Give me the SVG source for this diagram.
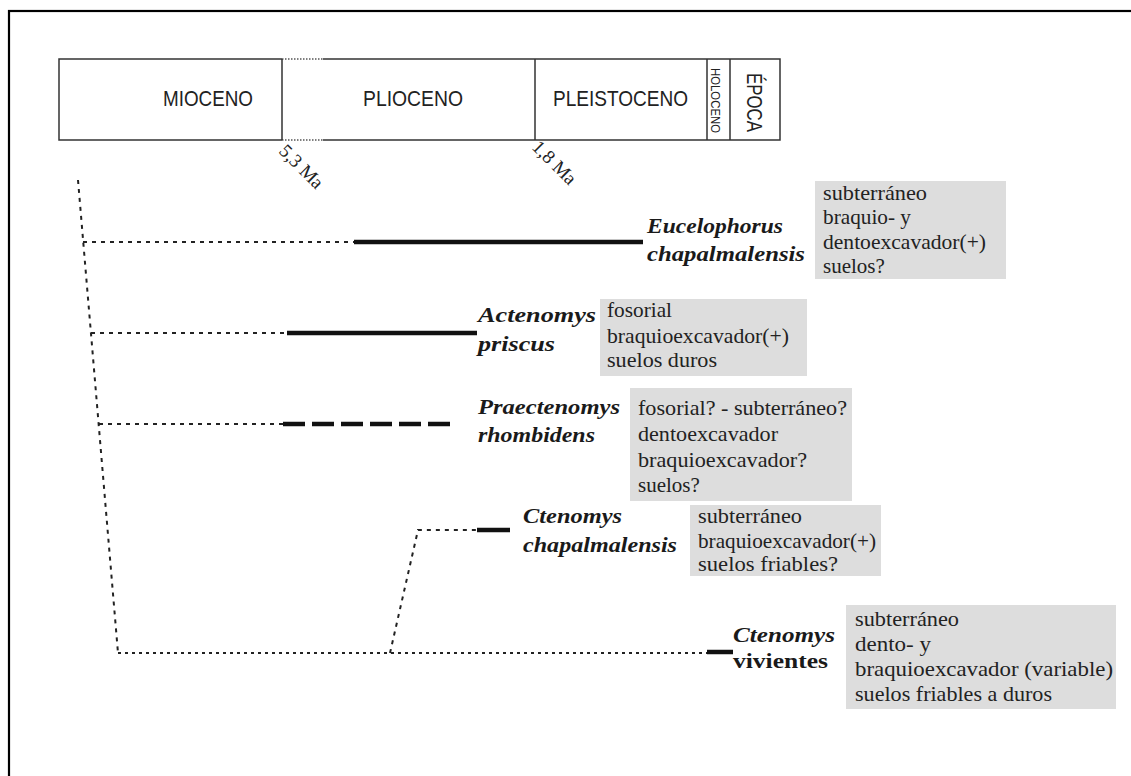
<svg xmlns="http://www.w3.org/2000/svg" width="1131" height="776" viewBox="0 0 1131 776">
<style>
.frame{fill:none;stroke:#000;stroke-width:2.2}
.tbox{fill:none;stroke:#333;stroke-width:1.5}
.tfine{fill:none;stroke:#555;stroke-width:1.3;stroke-dasharray:1.5 1.5}
.ep{font-family:"Liberation Sans",Arial,sans-serif;font-size:22px;fill:#222}
.ma{font-family:"Liberation Serif","Times New Roman",serif;font-size:19px;fill:#222}
.dot{fill:none;stroke:#222;stroke-width:2;stroke-dasharray:4 5}
.dot2{fill:none;stroke:#222;stroke-width:2;stroke-dasharray:3 4}
.thick{fill:none;stroke:#111;stroke-width:4.5}
.dash{fill:none;stroke:#111;stroke-width:4.5;stroke-dasharray:22 7}
.sp{font-family:"Liberation Serif","Times New Roman",serif;font-size:22px;font-weight:bold;font-style:italic;fill:#1a1a1a}
.spr{font-family:"Liberation Serif","Times New Roman",serif;font-size:22px;font-weight:bold;fill:#1a1a1a}
.gb{fill:#dddddd}
.bt{font-family:"Liberation Serif","Times New Roman",serif;font-size:21px;fill:#222}
</style>
<rect x="0" y="0" width="1131" height="776" fill="#fff"/>
<rect class="frame" x="9" y="11" width="1300" height="1000"/>

<g id="timescale">
  <path class="tbox" d="M282,59 H59 V140 H282 M323,59 H780 V140 H323"/>
  <path class="tfine" d="M282,59 H323 M282,140 H323"/>
  <path class="tbox" d="M282,59 V140 M535,59 V140 M707,59 V140 M730,59 V140"/>
  <text class="ep" x="163" y="106" textLength="90" lengthAdjust="spacingAndGlyphs">MIOCENO</text>
  <text class="ep" x="363" y="106" textLength="100" lengthAdjust="spacingAndGlyphs">PLIOCENO</text>
  <text class="ep" x="553" y="106" textLength="135" lengthAdjust="spacingAndGlyphs">PLEISTOCENO</text>
  <text class="ep" style="font-size:12.5px" transform="translate(711,68) rotate(90)" textLength="65" lengthAdjust="spacingAndGlyphs">HOLOCENO</text>
  <text class="ep" transform="translate(747,73) rotate(90)" textLength="59" lengthAdjust="spacingAndGlyphs">ÉPOCA</text>
  <text class="ma" transform="translate(278,152) rotate(45)">5,3 Ma</text>
  <text class="ma" transform="translate(531,148) rotate(45)">1,8 Ma</text>
</g>

<g id="connectors">
  <path class="dot" d="M78,180 L118,653"/>
  <path class="dot" d="M83,242 H355"/>
  <path class="dot" d="M91,333 H287"/>
  <path class="dot" d="M99,424 H284"/>
  <path class="dot2" d="M118,653 H708"/>
  <path class="dot" d="M390,653 L418,530 H478"/>
  <path class="thick" d="M354,242 H643"/>
  <path class="thick" d="M287,333 H477"/>
  <path class="dash" d="M283,424 H455"/>
  <path class="thick" d="M477,530 H510"/>
  <path class="thick" d="M707,652 H733"/>
</g>

<g id="eucelophorus">
  <text class="sp" x="647" y="233" textLength="136" lengthAdjust="spacingAndGlyphs">Eucelophorus</text>
  <text class="sp" x="647" y="261" textLength="158" lengthAdjust="spacingAndGlyphs">chapalmalensis</text>
  <rect class="gb" x="815" y="181" width="191" height="98"/>
  <text class="bt" x="823" y="200" textLength="104" lengthAdjust="spacingAndGlyphs">subterráneo</text>
  <text class="bt" x="823" y="224" textLength="88" lengthAdjust="spacingAndGlyphs">braquio- y</text>
  <text class="bt" x="823" y="249" textLength="163" lengthAdjust="spacingAndGlyphs">dentoexcavador(+)</text>
  <text class="bt" x="823" y="273">suelos?</text>
</g>

<g id="actenomys">
  <text class="sp" x="478" y="322" textLength="118" lengthAdjust="spacingAndGlyphs">Actenomys</text>
  <text class="sp" x="478" y="351" textLength="77" lengthAdjust="spacingAndGlyphs">priscus</text>
  <rect class="gb" x="600" y="299" width="207" height="77"/>
  <text class="bt" x="607" y="317" textLength="65" lengthAdjust="spacingAndGlyphs">fosorial</text>
  <text class="bt" x="607" y="343" textLength="182" lengthAdjust="spacingAndGlyphs">braquioexcavador(+)</text>
  <text class="bt" x="607" y="367" textLength="110" lengthAdjust="spacingAndGlyphs">suelos duros</text>
</g>

<g id="praectenomys">
  <text class="sp" x="478" y="414" textLength="142" lengthAdjust="spacingAndGlyphs">Praectenomys</text>
  <text class="sp" x="478" y="442" textLength="117" lengthAdjust="spacingAndGlyphs">rhombidens</text>
  <rect class="gb" x="630" y="388" width="222" height="113"/>
  <text class="bt" x="638" y="415" textLength="209" lengthAdjust="spacingAndGlyphs">fosorial? - subterráneo?</text>
  <text class="bt" x="638" y="441" textLength="140" lengthAdjust="spacingAndGlyphs">dentoexcavador</text>
  <text class="bt" x="638" y="467" textLength="169" lengthAdjust="spacingAndGlyphs">braquioexcavador?</text>
  <text class="bt" x="638" y="492">suelos?</text>
</g>

<g id="ctenomys-chapalmalensis">
  <text class="sp" x="523" y="523" textLength="99" lengthAdjust="spacingAndGlyphs">Ctenomys</text>
  <text class="sp" x="523" y="552" textLength="154" lengthAdjust="spacingAndGlyphs">chapalmalensis</text>
  <rect class="gb" x="690" y="505" width="191" height="71"/>
  <text class="bt" x="698" y="523" textLength="104" lengthAdjust="spacingAndGlyphs">subterráneo</text>
  <text class="bt" x="698" y="548" textLength="178" lengthAdjust="spacingAndGlyphs">braquioexcavador(+)</text>
  <text class="bt" x="698" y="571" textLength="140" lengthAdjust="spacingAndGlyphs">suelos friables?</text>
</g>

<g id="ctenomys-vivientes">
  <text class="sp" x="733" y="642" textLength="102" lengthAdjust="spacingAndGlyphs">Ctenomys</text>
  <text class="spr" x="733" y="668" textLength="95" lengthAdjust="spacingAndGlyphs">vivientes</text>
  <rect class="gb" x="846" y="605" width="270" height="104"/>
  <text class="bt" x="855" y="626" textLength="104" lengthAdjust="spacingAndGlyphs">subterráneo</text>
  <text class="bt" x="855" y="651" textLength="76" lengthAdjust="spacingAndGlyphs">dento- y</text>
  <text class="bt" x="855" y="676" textLength="258" lengthAdjust="spacingAndGlyphs">braquioexcavador (variable)</text>
  <text class="bt" x="855" y="701" textLength="197" lengthAdjust="spacingAndGlyphs">suelos friables a duros</text>
</g>
</svg>
